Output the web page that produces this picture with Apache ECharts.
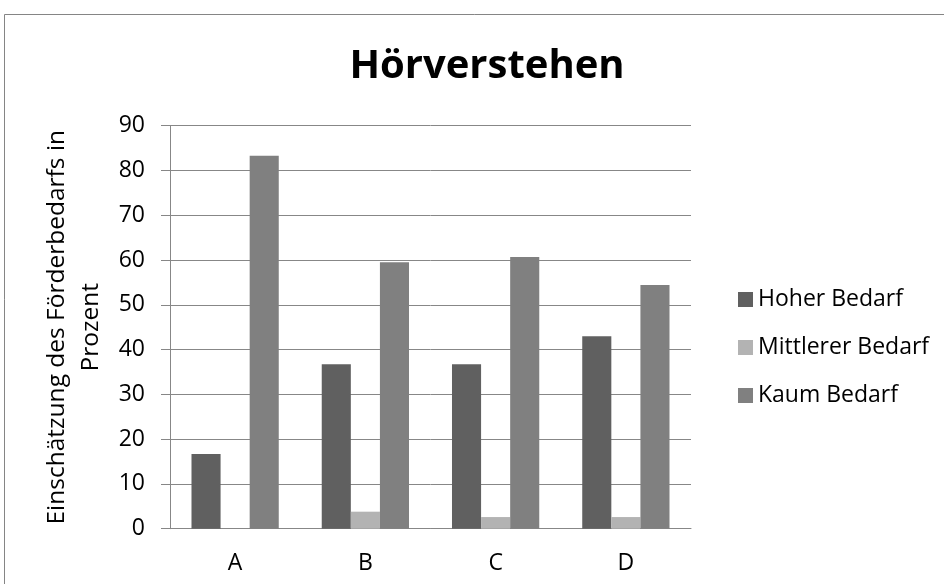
<!DOCTYPE html>
<html>
<head>
<meta charset="utf-8">
<script src="https://cdn.jsdelivr.net/npm/echarts@6/dist/echarts.min.js"></script>
<style>
  html, body { margin: 0; padding: 0; background: #ffffff; }
  #chart { width: 944px; height: 584px; }
</style>
</head>
<body>
<div id="chart"></div>
<script>
// Categories and percentages per need level
const categories = ['A', 'B', 'C', 'D'];
const hoherBedarf = [16.7, 36.7, 36.7, 43.0];
const mittlererBedarf = [0, 3.8, 2.6, 2.6];
const kaumBedarf = [83.3, 59.5, 60.7, 54.4];
const seriesNames = ['Hoher Bedarf', 'Mittlerer Bedarf', 'Kaum Bedarf'];
const yTicks = { min: 0, max: 90, interval: 10 };

const FONT = '"Open Sans", sans-serif';
const axisGray = '#878787';

const chart = echarts.init(document.getElementById('chart'), null, { renderer: 'canvas' });

const barSeries = (name, data, color) => ({
  name: name,
  type: 'bar',
  data: data,
  barGap: '0%',
  barCategoryGap: '33%',
  itemStyle: { color: color },
  emphasis: { disabled: true }
});

chart.setOption({
  animation: false,
  backgroundColor: '#ffffff',
  title: {
    text: 'Hörverstehen',
    left: 482,
    top: 42,
    textAlign: 'center',
    textStyle: { fontFamily: FONT, fontWeight: 'bold', fontSize: 40, color: '#000000' }
  },
  graphic: [{
    type: 'rect',
    silent: true,
    shape: { x: 4.5, y: 14.5, width: 960, height: 600 },
    style: { fill: 'none', stroke: '#858585', lineWidth: 1 }
  }],
  legend: {
    orient: 'vertical',
    left: 733,
    top: 283,
    itemWidth: 15,
    itemHeight: 15,
    itemGap: 25,
    icon: 'rect',
    selectedMode: false,
    textStyle: { fontFamily: FONT, fontSize: 23, color: '#000000', lineHeight: 23 },
    data: seriesNames
  },
  grid: { left: 170, right: 253, top: 125.7, bottom: 55.3, containLabel: false },
  xAxis: {
    type: 'category',
    data: categories,
    axisLine: { lineStyle: { color: axisGray, width: 1 } },
    axisTick: { show: false },
    axisLabel: { fontFamily: FONT, fontSize: 23, color: '#000000', margin: 23 }
  },
  yAxis: {
    type: 'value',
    min: yTicks.min,
    max: yTicks.max,
    interval: yTicks.interval,
    name: 'Einschätzung des Förderbedarfs in\nProzent',
    nameLocation: 'middle',
    nameRotate: 90,
    nameGap: 60,
    nameTextStyle: { fontFamily: FONT, fontSize: 24.5, color: '#000000', lineHeight: 34, align: 'center' },
    axisLine: { show: true, lineStyle: { color: axisGray, width: 1 } },
    axisTick: { show: true, length: 9, lineStyle: { color: axisGray, width: 1 } },
    splitLine: { show: true, lineStyle: { color: axisGray, width: 1 } },
    axisLabel: { fontFamily: FONT, fontSize: 23, color: '#000000', margin: 25 }
  },
  series: [
    barSeries(seriesNames[0], hoherBedarf, '#606060'),
    barSeries(seriesNames[1], mittlererBedarf, '#b3b3b3'),
    barSeries(seriesNames[2], kaumBedarf, '#808080')
  ]
});
</script>
</body>
</html>
